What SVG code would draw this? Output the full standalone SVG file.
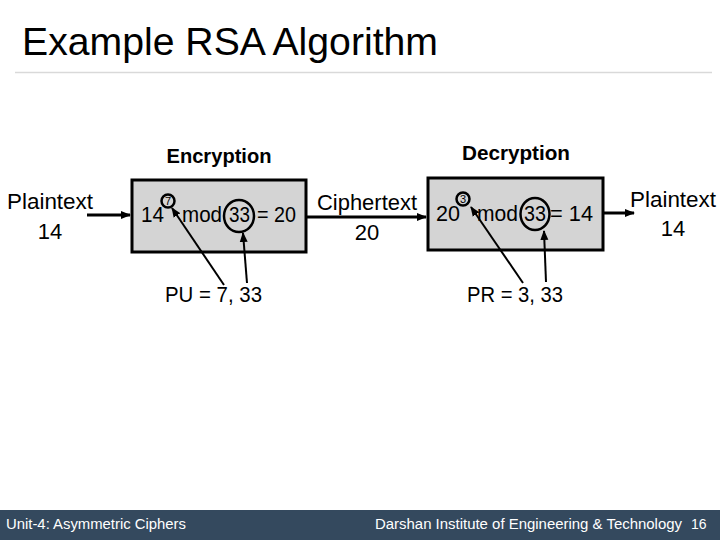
<svg xmlns="http://www.w3.org/2000/svg" width="720" height="540" viewBox="0 0 720 540">
<defs>
<marker id="ah" viewBox="0 0 10 10" refX="9" refY="5" markerWidth="5" markerHeight="5" orient="auto" markerUnits="strokeWidth">
<path d="M0,1 L10,5 L0,9 z" fill="#000"/>
</marker>
<marker id="ah2" viewBox="0 0 10 10" refX="9" refY="5" markerWidth="3.5" markerHeight="3.5" orient="auto" markerUnits="strokeWidth">
<path d="M0,1 L10,5 L0,9 z" fill="#000"/>
</marker>
</defs>
<style>
text{font-family:"Liberation Sans",Arial,sans-serif;fill:#000}
.t{font-size:22px}
.b{font-size:20px;font-weight:bold}
.box{fill:#d4d4d4;stroke:#000;stroke-width:3}
.c{fill:none;stroke:#000;stroke-width:2.5}
.ln{stroke:#000;stroke-width:2;fill:none}
.fl{stroke:#000;stroke-width:3;fill:none}
.ft{font-size:14px;fill:#fff}
</style>
<rect width="720" height="540" fill="#fff"/>
<text x="22" y="55" font-size="39" textLength="416" lengthAdjust="spacingAndGlyphs">Example RSA Algorithm</text>
<line x1="15" y1="72.5" x2="712" y2="72.5" stroke="#d9d9d9" stroke-width="1.5"/>

<g id="enc-label"><text class="b" x="219" y="163" text-anchor="middle" textLength="105" lengthAdjust="spacingAndGlyphs">Encryption</text></g>
<g id="dec-label"><text class="b" x="516" y="160" text-anchor="middle" textLength="108" lengthAdjust="spacingAndGlyphs">Decryption</text></g>

<g id="plain-in">
<text class="t" x="50" y="209" text-anchor="middle" textLength="86" lengthAdjust="spacingAndGlyphs">Plaintext</text>
<text class="t" x="50" y="239" text-anchor="middle">14</text>
</g>

<g id="enc-box">
<rect class="box" x="132" y="180" width="174" height="72"/>
<text class="t" x="141" y="222" textLength="23" lengthAdjust="spacingAndGlyphs">14</text>
<text class="t" x="182" y="222" textLength="40" lengthAdjust="spacingAndGlyphs">mod</text>
<text class="t" x="229" y="222" textLength="21" lengthAdjust="spacingAndGlyphs">33</text>
<text class="t" x="257" y="222" textLength="39" lengthAdjust="spacingAndGlyphs">= 20</text>
<circle class="c" cx="168" cy="201" r="6.5"/>
<text x="168" y="205" font-size="11" text-anchor="middle">7</text>
<ellipse class="c" cx="239" cy="216" rx="15" ry="16"/>
</g>

<g id="cipher">
<text class="t" x="367" y="210" text-anchor="middle" textLength="100" lengthAdjust="spacingAndGlyphs">Ciphertext</text>
<text class="t" x="367" y="240" text-anchor="middle">20</text>
</g>

<g id="dec-box">
<rect class="box" x="428" y="178" width="175" height="72"/>
<text class="t" x="436" y="221" textLength="24" lengthAdjust="spacingAndGlyphs">20</text>
<text class="t" x="477" y="221" textLength="41" lengthAdjust="spacingAndGlyphs">mod</text>
<text class="t" x="524" y="221" textLength="22" lengthAdjust="spacingAndGlyphs">33</text>
<text class="t" x="550" y="221" textLength="43" lengthAdjust="spacingAndGlyphs">= 14</text>
<circle class="c" cx="463" cy="199" r="6.5"/>
<text x="463" y="203" font-size="11" text-anchor="middle">3</text>
<ellipse class="c" cx="535" cy="214" rx="14.5" ry="16"/>
</g>

<g id="plain-out">
<text class="t" x="673" y="207" text-anchor="middle" textLength="86" lengthAdjust="spacingAndGlyphs">Plaintext</text>
<text class="t" x="673" y="236" text-anchor="middle">14</text>
</g>

<g id="pu"><text class="t" x="165" y="302" textLength="97" lengthAdjust="spacingAndGlyphs">PU = 7, 33</text></g>
<g id="pr"><text class="t" x="467" y="302" textLength="96" lengthAdjust="spacingAndGlyphs">PR = 3, 33</text></g>

<g id="connectors">
<line class="fl" x1="87" y1="215" x2="130" y2="215" marker-end="url(#ah2)"/>
<line class="fl" x1="307" y1="217" x2="426" y2="217" marker-end="url(#ah2)"/>
<line class="fl" x1="604" y1="213" x2="634" y2="213" marker-end="url(#ah2)"/>
<line class="ln" x1="224" y1="285" x2="172" y2="208" marker-end="url(#ah)"/>
<line class="ln" x1="247" y1="283" x2="243" y2="233" marker-end="url(#ah)"/>
<line class="ln" x1="523" y1="283" x2="471" y2="207" marker-end="url(#ah)"/>
<line class="ln" x1="546" y1="282" x2="544" y2="231" marker-end="url(#ah)"/>
</g>

<rect x="0" y="510" width="720" height="30" fill="#34495e"/>
<text class="ft" x="6" y="529" textLength="180" lengthAdjust="spacingAndGlyphs">Unit-4: Asymmetric Ciphers</text>
<text class="ft" x="375" y="529" textLength="307" lengthAdjust="spacingAndGlyphs">Darshan Institute of Engineering &amp; Technology</text>
<text class="ft" x="691" y="529">16</text>
</svg>
